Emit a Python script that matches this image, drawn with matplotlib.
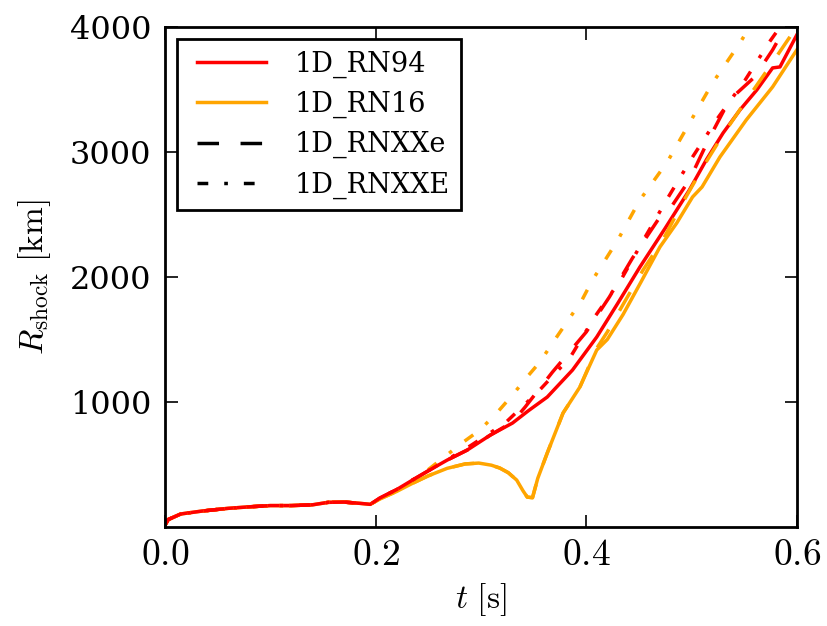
import matplotlib
matplotlib.use('Agg')
import matplotlib.pyplot as plt
from matplotlib.lines import Line2D
from matplotlib.legend_handler import HandlerLine2D
from matplotlib.ticker import FuncFormatter

plt.rcParams['font.family'] = 'DejaVu Serif'
plt.rcParams['mathtext.fontset'] = 'cm'

# early evolution, identical for all runs
t_common = [0.0, 0.003, 0.015, 0.035, 0.06, 0.08, 0.10, 0.12, 0.14, 0.155, 0.17, 0.185, 0.195]
r_common = [15, 60, 105, 128, 150, 162, 172, 172, 178, 198, 200, 190, 182]

# 1D_RN94 (red, solid)
t_rn94 = [0.204, 0.22, 0.235, 0.25, 0.268, 0.287, 0.309, 0.33, 0.345, 0.363, 0.387, 0.41,
          0.43, 0.451, 0.475, 0.498, 0.514, 0.53, 0.546, 0.562, 0.577, 0.584, 0.596, 0.6]
r_rn94 = [232, 300, 376, 450, 536, 616, 736, 832, 930, 1040, 1256, 1520,
          1790, 2080, 2390, 2696, 2936, 3152, 3336, 3496, 3672, 3680, 3872, 3936]

# 1D_RN16 (orange, solid)
t_rn16 = [0.204, 0.22, 0.235, 0.25, 0.268, 0.285, 0.298, 0.31, 0.318, 0.326, 0.334, 0.34,
          0.344, 0.349, 0.354, 0.363, 0.378, 0.394, 0.41, 0.42, 0.435, 0.452, 0.47, 0.486,
          0.501, 0.51, 0.527, 0.552, 0.577, 0.6]
r_rn16 = [225, 285, 350, 410, 470, 505, 512, 495, 472, 435, 376, 290,
          240, 235, 390, 592, 912, 1120, 1416, 1500, 1700, 1960, 2240, 2432,
          2640, 2720, 2960, 3256, 3520, 3816]

# 1D_RNXXe with RN94 (red, dashed)
t_xxe94 = [0.204, 0.22, 0.235, 0.25, 0.268, 0.287, 0.309, 0.33, 0.342, 0.368, 0.40, 0.422,
           0.444, 0.470, 0.482, 0.498, 0.516, 0.536, 0.560, 0.577, 0.584, 0.592]
r_xxe94 = [232, 300, 376, 450, 536, 616, 736, 840, 960, 1240, 1560, 1840,
           2152, 2480, 2576, 2776, 3096, 3416, 3600, 3816, 3920, 4030]

# 1D_RNXXe with RN16 (orange, dashed)
t_xxe16 = [0.204, 0.22, 0.235, 0.25, 0.268, 0.285, 0.298, 0.31, 0.318, 0.326, 0.334, 0.34,
           0.344, 0.349, 0.354, 0.363, 0.378, 0.394, 0.41, 0.42, 0.435, 0.454, 0.473, 0.492,
           0.511, 0.53, 0.549, 0.574, 0.596, 0.6]
r_xxe16 = [225, 285, 350, 410, 470, 505, 512, 495, 472, 435, 376, 290,
           240, 235, 390, 592, 912, 1120, 1430, 1560, 1780, 2056, 2300, 2600,
           2880, 3140, 3376, 3680, 3952, 4000]

# 1D_RNXXE with RN94 (red, dash-dot)
t_xxE94 = [0.204, 0.22, 0.235, 0.25, 0.268, 0.29, 0.323, 0.354, 0.385, 0.408, 0.434, 0.456,
           0.478, 0.501, 0.525, 0.551, 0.574, 0.585]
r_xxE94 = [232, 300, 376, 450, 540, 650, 832, 1080, 1360, 1680, 1992, 2320,
           2640, 2960, 3272, 3576, 3880, 4010]

# 1D_RNXXE with RN16 (orange, dash-dot)
t_xxE16 = [0.204, 0.22, 0.235, 0.247, 0.264, 0.282, 0.299, 0.315, 0.330, 0.343, 0.356, 0.370,
           0.383, 0.396, 0.406, 0.430, 0.451, 0.477, 0.498, 0.520, 0.546, 0.556]
r_xxE16 = [225, 290, 360, 440, 552, 672, 776, 912, 1056, 1192, 1320, 1496,
           1656, 1816, 1976, 2296, 2616, 2920, 3230, 3552, 3872, 4010]

x_ticks = [0.0, 0.2, 0.4, 0.6]
y_ticks = [1000, 2000, 3000, 4000]
labels = ['1D_RN94', '1D_RN16', '1D_RNXXe', '1D_RNXXE']

RED = '#ff0000'
ORANGE = '#ffa500'
LW = 2.5
DASHED = (6.2, 6.2)
DASHDOT = (3.1, 4.6, 1.05, 4.6)

fig = plt.figure(figsize=(8.27, 6.26), dpi=100)
ax = fig.add_axes([0.1995, 0.158, 0.764, 0.799])

series = [
    (t_rn16, r_rn16, ORANGE, None),
    (t_rn94, r_rn94, RED, None),
    (t_xxe16, r_xxe16, ORANGE, DASHED),
    (t_xxE16, r_xxE16, ORANGE, DASHDOT),
    (t_xxe94, r_xxe94, RED, DASHED),
    (t_xxE94, r_xxE94, RED, DASHDOT),
]
for t, r, c, dash in series:
    tt = t_common + t
    rr = r_common + r
    if dash is None:
        ax.plot(tt, rr, color=c, lw=LW)
    else:
        ax.plot(tt, rr, color=c, lw=LW, dashes=dash)

ax.set_xlim(0, 0.6)
ax.set_ylim(0, 4000)
ax.set_xticks(x_ticks)
ax.set_yticks(y_ticks)
ax.xaxis.set_major_formatter(FuncFormatter(lambda v, p: r'$%.1f$' % v))
ax.tick_params(direction='in', length=9, width=1.2, top=True, right=True)
ax.tick_params(axis='x', labelsize=27, pad=7)
ax.tick_params(axis='y', labelsize=23, pad=10)
for s in ax.spines.values():
    s.set_linewidth(2)

ax.set_xlabel(r'$t\ [\mathrm{s}]$', fontsize=24, labelpad=6)
ax.set_ylabel(r'$R_{\rm shock}\ [\mathrm{km}]$', fontsize=24, labelpad=12)

handles = [
    Line2D([], [], color=RED, lw=LW),
    Line2D([], [], color=ORANGE, lw=LW),
    Line2D([], [], color='black', lw=LW, dashes=DASHED),
    Line2D([], [], color='black', lw=LW, dashes=DASHDOT),
]
leg = ax.legend(handles, labels, loc='upper left', fontsize=19.5, fancybox=False,
                handlelength=2.85, handletextpad=1.07, labelspacing=0.48,
                borderpad=0.42, borderaxespad=0.45, framealpha=1,
                handler_map={Line2D: HandlerLine2D(xpad=0.3)})
leg.get_frame().set_edgecolor('black')
leg.get_frame().set_linewidth(2)

plt.savefig('out.png', dpi=100)
print("OK: out.png saved")
